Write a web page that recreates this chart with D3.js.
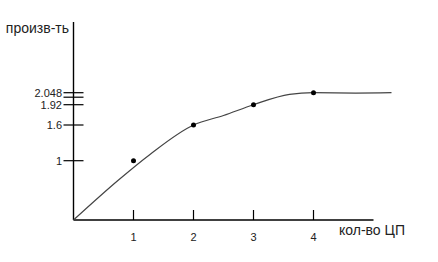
<!DOCTYPE html>
<html>
<head>
<meta charset="utf-8">
<script src="https://cdn.jsdelivr.net/npm/d3@7"></script>
<style>
  body { margin: 0; background: white; }
  text { font-family: "Liberation Sans", Arial, sans-serif; fill: #222; }
</style>
</head>
<body>
<svg id="chart" width="438" height="262"></svg>
<script>
// measured points (cpu count -> performance)
const cpus = [1, 2, 3, 4];
const perf = [1, 1.6, 1.92, 2.048];

// smooth trend line
const curveX = [0, 0.75, 1.28, 2, 2.5, 3, 3.6, 4, 4.7, 5.3];
const curveY = [0, 0.675, 1.11, 1.6, 1.75, 1.92, 2.03, 2.048, 2.044, 2.048];

// axis ticks
const xTicks = [1, 2, 3, 4];
const yTicks = [1, 1.6, 1.92, 2, 2.048];
const yTickLabels = ["1", "1.6", "1.92", "", "2.048"];

const svg = d3.select("svg#chart");

// y axis is drawn by hand in the original, so the scale is piecewise
const x = d3.scaleLinear().domain([0, 5.3]).range([73.5, 391.5]);
const y = d3.scaleLinear()
  .domain([0, 1, 1.6, 1.92, 2.048])
  .range([220, 160.7, 125, 104.7, 92.7]);

// axes
svg.append("line")
  .attr("x1", x(0)).attr("x2", x(5))
  .attr("y1", y(0)).attr("y2", y(0))
  .attr("stroke", "#000").attr("stroke-width", 1.4);

svg.append("line")
  .attr("x1", x(0)).attr("x2", x(0))
  .attr("y1", y(0)).attr("y2", 22)
  .attr("stroke", "#000").attr("stroke-width", 1.4);

// x ticks (only above the axis)
svg.selectAll("line.xtick")
  .data(xTicks)
  .enter()
  .append("line")
  .attr("class", "xtick")
  .attr("x1", d => x(d)).attr("x2", d => x(d))
  .attr("y1", y(0) - 10).attr("y2", y(0))
  .attr("stroke", "#000").attr("stroke-width", 1.2);

svg.selectAll("text.xlabel")
  .data(xTicks)
  .enter()
  .append("text")
  .attr("class", "xlabel")
  .attr("x", d => x(d))
  .attr("y", 241)
  .attr("text-anchor", "middle")
  .style("font-size", "11px")
  .text(d => d);

// y ticks cross the axis
svg.selectAll("line.ytick")
  .data(yTicks)
  .enter()
  .append("line")
  .attr("class", "ytick")
  .attr("x1", x(0) - 10).attr("x2", x(0) + 10)
  .attr("y1", d => y(d)).attr("y2", d => y(d))
  .attr("stroke", "#000").attr("stroke-width", 1.2);

svg.selectAll("text.ylabel")
  .data(yTicks)
  .enter()
  .append("text")
  .attr("class", "ylabel")
  .attr("x", 62)
  .attr("y", d => y(d))
  .attr("dy", "0.36em")
  .attr("text-anchor", "end")
  .style("font-size", "11px")
  .text((d, i) => yTickLabels[i]);

// axis titles
svg.append("text")
  .attr("x", 69).attr("y", 33)
  .attr("text-anchor", "end")
  .style("font-size", "14px")
  .text("произв-ть");

svg.append("text")
  .attr("x", 339).attr("y", 235)
  .style("font-size", "14px")
  .text("кол-во ЦП");

// trend curve
const line = d3.line()
  .x(d => x(d[0]))
  .y(d => y(d[1]))
  .curve(d3.curveMonotoneX);

svg.append("path")
  .datum(d3.zip(curveX, curveY))
  .attr("d", line)
  .attr("fill", "none")
  .attr("stroke", "#444")
  .attr("stroke-width", 1.2);

// data points
svg.selectAll("circle.point")
  .data(d3.zip(cpus, perf))
  .enter()
  .append("circle")
  .attr("class", "point")
  .attr("cx", d => x(d[0]))
  .attr("cy", d => y(d[1]))
  .attr("r", 2.5)
  .attr("fill", "#000");
</script>
</body>
</html>
